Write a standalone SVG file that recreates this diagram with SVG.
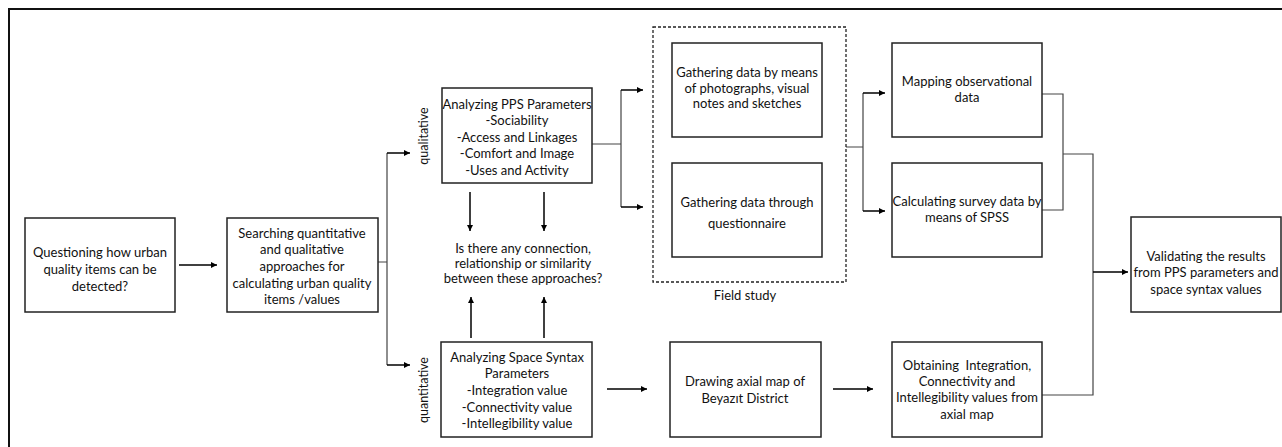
<svg xmlns="http://www.w3.org/2000/svg" width="1282" height="447" viewBox="0 0 1282 447">
<style>
text{font-family:Lato,"Liberation Sans",sans-serif;font-size:13px;fill:#111;text-anchor:middle}
.box{fill:#fff;stroke:#222;stroke-width:1.5}
.dash{fill:none;stroke:#222;stroke-width:1.3;stroke-dasharray:3,2}
.ln{fill:none;stroke:#444;stroke-width:1.2}
.ar{fill:none;stroke:#000;stroke-width:1.5;marker-end:url(#ah)}
.rot{font-size:12.5px}
</style>
<defs>
<marker id="ah" viewBox="0 0 10 10" refX="10" refY="5" markerWidth="6" markerHeight="6" markerUnits="userSpaceOnUse" orient="auto"><path d="M0,0L10,5L0,10z" fill="#000"/></marker>
</defs>
<rect width="1282" height="447" fill="#fff"/>
<path d="M9,447V9H1282" fill="none" stroke="#111" stroke-width="2"/>
<g id="connectors">
<line class="ar" x1="179" y1="265" x2="217" y2="265"/>
<path class="ln" d="M378,262H387M387,153V365"/>
<line class="ar" x1="387" y1="153" x2="410" y2="153"/>
<line class="ar" x1="387" y1="365" x2="410" y2="365"/>
<path class="ln" d="M592,144H621M621,90V207"/>
<line class="ar" x1="621" y1="90" x2="643" y2="90"/>
<line class="ar" x1="621" y1="207" x2="643" y2="207"/>
<line class="ar" x1="470" y1="192" x2="470" y2="231"/>
<line class="ar" x1="544" y1="192" x2="544" y2="231"/>
<line class="ar" x1="471" y1="338" x2="471" y2="297"/>
<line class="ar" x1="544" y1="338" x2="544" y2="297"/>
<line class="ar" x1="607" y1="389" x2="647" y2="389"/>
<line class="ar" x1="833" y1="389" x2="873" y2="389"/>
<path class="ln" d="M846,147H863M863,93V211"/>
<line class="ar" x1="863" y1="93" x2="885" y2="93"/>
<line class="ar" x1="863" y1="211" x2="885" y2="211"/>
<path class="ln" d="M1042,94H1063V210H1042M1063,154H1093V395H1042"/>
<line class="ar" x1="1093" y1="272" x2="1128" y2="272"/>
</g>
<g id="field-study">
<rect class="dash" x="653" y="27" width="193" height="255"/>
<text x="745" y="300">Field study</text>
</g>
<g id="n-question">
<rect class="box" x="25" y="218" width="150" height="94"/>
<text x="100" y="257">Questioning how urban</text>
<text x="100" y="274">quality items can be</text>
<text x="100" y="291">detected?</text>
</g>
<g id="n-searching">
<rect class="box" x="227" y="218" width="151" height="94"/>
<text x="302" y="238">Searching quantitative</text>
<text x="302" y="254">and qualitative</text>
<text x="302" y="271">approaches for</text>
<text x="302" y="288">calculating urban quality</text>
<text x="302" y="304">items /values</text>
</g>
<g id="lbl-qual"><text class="rot" transform="translate(428,136) rotate(-90)">qualitative</text></g>
<g id="lbl-quant"><text class="rot" transform="translate(428,390) rotate(-90)">quantitative</text></g>
<g id="n-pps">
<rect class="box" x="442" y="88" width="150" height="95"/>
<text x="517" y="109">Analyzing PPS Parameters</text>
<text x="517" y="125">-Sociability</text>
<text x="517" y="142">-Access and Linkages</text>
<text x="517" y="158">-Comfort and Image</text>
<text x="517" y="175">-Uses and Activity</text>
</g>
<g id="n-question2">
<text x="523" y="253">Is there any connection,</text>
<text x="523" y="268">relationship or similarity</text>
<text x="523" y="283">between these approaches?</text>
</g>
<g id="n-syntax">
<rect class="box" x="441" y="342" width="151" height="95"/>
<text x="517" y="362">Analyzing Space Syntax</text>
<text x="517" y="378">Parameters</text>
<text x="517" y="395">-Integration value</text>
<text x="517" y="412">-Connectivity value</text>
<text x="517" y="428">-Intellegibility value</text>
</g>
<g id="n-photos">
<rect class="box" x="672" y="43" width="150" height="94"/>
<text x="747" y="77">Gathering data by means</text>
<text x="747" y="93">of photographs, visual</text>
<text x="747" y="108">notes and sketches</text>
</g>
<g id="n-questionnaire">
<rect class="box" x="672" y="163" width="150" height="94"/>
<text x="747" y="207">Gathering data through</text>
<text x="747" y="228">questionnaire</text>
</g>
<g id="n-axial">
<rect class="box" x="670" y="342" width="151" height="95"/>
<text x="745" y="386">Drawing axial map of</text>
<text x="745" y="403">Beyazıt District</text>
</g>
<g id="n-mapping">
<rect class="box" x="892" y="43" width="150" height="94"/>
<text x="967" y="86">Mapping observational</text>
<text x="967" y="102">data</text>
</g>
<g id="n-spss">
<rect class="box" x="892" y="163" width="150" height="94"/>
<text x="967" y="206">Calculating survey data by</text>
<text x="967" y="222">means of SPSS</text>
</g>
<g id="n-obtaining">
<rect class="box" x="892" y="342" width="150" height="95"/>
<text x="967" y="370" xml:space="preserve">Obtaining  Integration,</text>
<text x="967" y="386">Connectivity and</text>
<text x="967" y="402">Intellegibility values from</text>
<text x="967" y="419">axial map</text>
</g>
<g id="n-validating">
<rect class="box" x="1131" y="217" width="150" height="95"/>
<text x="1206" y="261">Validating the results</text>
<text x="1206" y="277">from PPS parameters and</text>
<text x="1206" y="294">space syntax values</text>
</g>
</svg>
